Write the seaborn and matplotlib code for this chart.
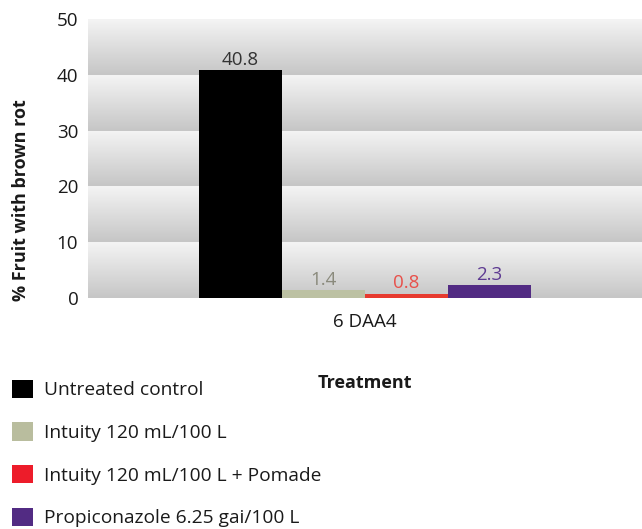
import numpy as np
import pandas as pd
import matplotlib
matplotlib.use("Agg")
import matplotlib.pyplot as plt
import seaborn as sns
from matplotlib.colors import LinearSegmentedColormap
from matplotlib.patches import Patch

timing = ["6 DAA4"]
treatments = ["Untreated control", "Intuity 120 mL/100 L",
              "Intuity 120 mL/100 L + Pomade", "Propiconazole 6.25 gai/100 L"]
values = [40.8, 1.4, 0.8, 2.3]
value_labels = ["40.8", "1.4", "0.8", "2.3"]
yticks = [0, 10, 20, 30, 40, 50]

bar_colors = ["#000000", "#bcc1a3", "#e73a2f", "#522b83"]
legend_colors = ["#000000", "#b9bd9e", "#ed1c2a", "#522b83"]
label_colors = ["#333333", "#8a8a7c", "#e8504a", "#5e3b92"]

sns.set_theme(style="white")
plt.rcParams["font.family"] = ["Open Sans", "DejaVu Sans"]

df = pd.DataFrame({"timing": timing * len(treatments),
                   "treatment": treatments,
                   "value": values})

fig = plt.figure(figsize=(6.42, 5.29), dpi=100)
ax = fig.add_axes([88 / 642, 1 - 298 / 529, 1 - 88 / 642, (298 - 19) / 529])

sns.barplot(data=df, x="timing", y="value", hue="treatment",
            hue_order=treatments, palette=bar_colors, width=0.6, gap=0,
            saturation=1, legend=False, ax=ax, zorder=3, edgecolor="none")

ax.set_xlim(-0.5, 0.5)
ax.set_ylim(0, 50)

# gradient background bands
cmap = LinearSegmentedColormap.from_list("band", ["#c6c6c6", "#f4f4f4"])
grad = np.linspace(0, 1, 100).reshape(-1, 1)
for lo in yticks[:-1]:
    ax.imshow(grad, cmap=cmap, aspect="auto", origin="lower",
              extent=[-0.5, 0.5, lo, lo + 10], zorder=0)
ax.set_xlim(-0.5, 0.5)
ax.set_ylim(0, 50)

for cont, lab, col in zip(ax.containers, value_labels, label_colors):
    ax.bar_label(cont, labels=[lab], color=col, fontsize=13.5, padding=1)

for s in ax.spines.values():
    s.set_visible(False)
ax.set_yticks(yticks)
ax.tick_params(axis="both", length=0, labelsize=13.5, colors="#1a1a1a")
ax.tick_params(axis="y", pad=7)
ax.tick_params(axis="x", pad=11)
ax.set_ylabel("% Fruit with brown rot", fontsize=13, fontweight="bold",
              color="#1a1a1a")
ax.yaxis.set_label_coords((30 - 88) / 554, (298 - 200) / 279)
ax.set_xlabel("Treatment", fontsize=13, fontweight="bold", labelpad=31,
              color="#1a1a1a")

handles = [Patch(facecolor=c, edgecolor="none") for c in legend_colors]
fig.legend(handles, treatments, loc="upper left",
           bbox_to_anchor=(0.0, 1 - 368 / 529), frameon=False,
           fontsize=13.8, handlelength=1.1, handleheight=1.1,
           handletextpad=0.6, labelspacing=1.2, borderaxespad=0.2,
           labelcolor="#1a1a1a")

fig.savefig("out.png", dpi=100)
